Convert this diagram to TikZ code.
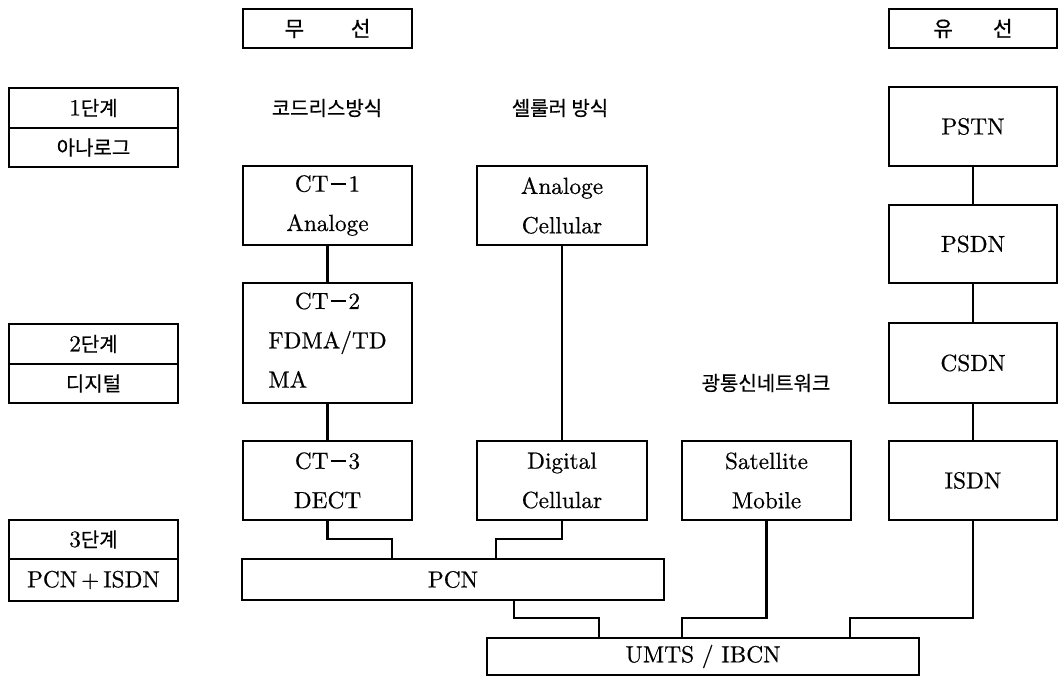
\documentclass[tikz,border=0pt]{standalone}
\usepackage{fontspec}
\newfontfamily\kr{Noto Sans CJK KR}[FakeBold=0.5]
\newfontfamily\latb{lmroman10-regular.otf}[FakeBold=0.6]
\newcommand\latf{\latb\fontsize{17.5}{29.5}\selectfont}
\newcommand\krf{\kr\fontsize{15}{20}\selectfont}
\newcommand\krhf{\kr\fontsize{16}{20}\selectfont}
\newcommand\mns{\kern1.5pt\raisebox{0.3em}{\rule{0.65em}{0.07em}}\kern2pt}
\tikzset{
  box/.style={draw, line width=1.6pt, inner sep=0pt, align=center, font=\latf},
  wh/.style 2 args={minimum width=#1*0.75pt, minimum height=#2*0.75pt},
  lbl/.style={inner sep=0pt, font=\krf},
  conn/.style={line width=1.6pt}
}
\begin{document}
\begin{tikzpicture}[x=0.75pt,y=-0.75pt]
\useasboundingbox (0,0) rectangle (1060,677);

% headers
\node[box, wh={169}{39}, font=\krhf] (wl) at (327.5,28.5) {무\hspace{35pt}선};
\node[box, wh={168}{39}, font=\krhf] (wd) at (973,28.5) {유\hspace{30pt}선};

% stage boxes
\node[box, wh={169}{40}] (s1a) at (93.5,108) {1{\krf 단계}};
\node[box, wh={169}{39}, font=\krf] (s1b) at (93.5,147.5) {아나로그};
\node[box, wh={169}{40}] (s2a) at (93.5,344) {2{\krf 단계}};
\node[box, wh={169}{39}, font=\krf] (s2b) at (93.5,383.5) {디지털};
\node[box, wh={169}{39}] (s3a) at (93.5,539.5) {3{\krf 단계}};
\node[box, wh={169}{42}] (s3b) at (93.5,580) {PCN\,+\,ISDN};

% column labels
\node[lbl] (tcl) at (327,108) {코드리스방식};
\node[lbl] (tcel) at (560,108) {셀룰러 방식};
\node[lbl] (topt) at (766,383) {광통신네트워크};

% cordless column
\node[box, wh={169}{79}] (ct1) at (327.5,205.5) {CT\mns 1\\Analoge};
\node[box, wh={169}{120}] (ct2) at (327.5,343) {CT\mns 2\\FDMA/TD\\\rlap{MA}\phantom{FDMA/TD}};
\node[box, wh={169}{79}] (ct3) at (327.5,480.5) {CT\mns 3\\DECT};

% cellular column
\node[box, wh={170}{79}] (ac) at (562,205.5) {Analoge\\Cellular};
\node[box, wh={170}{79}] (dc) at (562,480.5) {Digital\\Cellular};

% satellite
\node[box, wh={169}{79}] (sat) at (766.5,480.5) {Satellite\\Mobile};

% wired column
\node[box, wh={168}{79}] (pstn) at (973,126.5) {PSTN};
\node[box, wh={168}{78}] (psdn) at (973,244) {PSDN};
\node[box, wh={168}{80}] (csdn) at (973,363) {CSDN};
\node[box, wh={168}{79}] (isdn) at (973,480.5) {ISDN};

% PCN and UMTS
\node[box, wh={422}{41}] (pcn) at (453,579.5) {PCN};
\node[box, wh={432}{37}] (umts) at (703,656.5) {UMTS / IBCN};

% junction points
\coordinate (j1) at (392,539);
\coordinate (j2) at (496,539);
\coordinate (j3a) at (514,618);
\coordinate (j3b) at (599,618);
\coordinate (j4) at (682,618);
\coordinate (j5) at (850,618);

% connectors
\draw[conn] (ct1) -- (ct2);
\draw[conn] (ct2) -- (ct3);
\draw[conn] (ac) -- (dc);
\draw[conn] (pstn) -- (psdn);
\draw[conn] (psdn) -- (csdn);
\draw[conn] (csdn) -- (isdn);
\draw[conn] (ct3.south) |- (j1) -- (j1 |- pcn.north);
\draw[conn] (dc.south) |- (j2) -- (j2 |- pcn.north);
\draw[conn] (j3a |- pcn.south) -- (j3a) -- (j3b) -- (j3b |- umts.north);
\draw[conn] (sat.south) |- (j4) -- (j4 |- umts.north);
\draw[conn] (isdn.south) |- (j5) -- (j5 |- umts.north);
\end{tikzpicture}
\end{document}
